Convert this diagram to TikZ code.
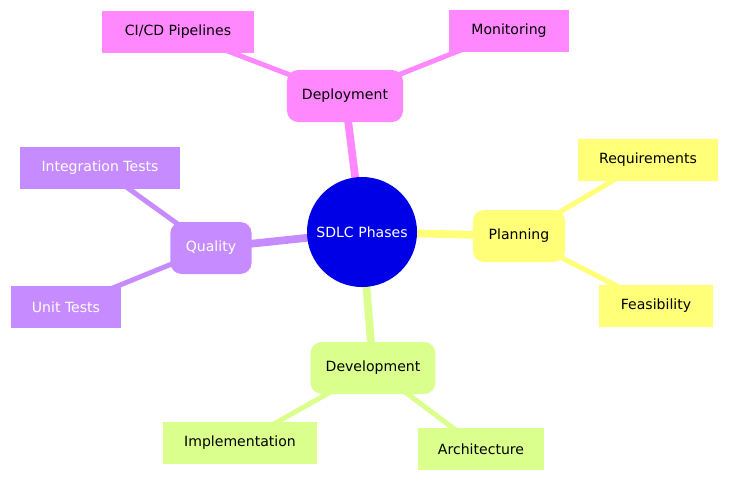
\documentclass[tikz,border=0pt]{standalone}
\usepackage{fontspec}
\setmainfont{DejaVu Sans}
\usetikzlibrary{backgrounds}
\definecolor{rootblue}{HTML}{0000E6}
\definecolor{planyel}{HTML}{FFFF78}
\definecolor{devgreen}{HTML}{DAFF8C}
\definecolor{qualpur}{HTML}{C68CFF}
\definecolor{deppink}{HTML}{FF88FF}
\tikzset{
  branch/.style={rounded corners=8pt, minimum height=1.3cm, fill=#1, font=\fontsize{10}{12}\selectfont},
  leaf/.style={minimum height=1.07cm, fill=#1, font=\fontsize{10}{12}\selectfont},
  thick edge/.style={line width=5.5pt, draw=#1},
  thin edge/.style={line width=3.5pt, draw=#1}
}
\begin{document}
\begin{tikzpicture}[x=0.025cm, y=-0.025cm]
			\useasboundingbox (0,0) rectangle (729,482);
			
			\node[circle, fill=rootblue, minimum size=2.75cm, text=white, font=\fontsize{10}{12}\selectfont] (root) at (362,232) {SDLC Phases};
			
			\node[branch=planyel, minimum width=2.3cm] (plan) at (519,236) {Planning};
			\node[leaf=planyel, minimum width=3.5cm] (req) at (648,160) {Requirements};
			\node[leaf=planyel, minimum width=2.83cm] (feas) at (656,306) {Feasibility};
			
			\node[branch=devgreen, minimum width=3.12cm] (dev) at (373,368) {Development};
			\node[leaf=devgreen, minimum width=3.85cm] (impl) at (240,443) {Implementation};
			\node[leaf=devgreen, minimum width=3.15cm] (arch) at (481,449) {Architecture};
			
			\node[branch=qualpur, minimum width=2.03cm, text=white] (qual) at (211,248) {Quality};
			\node[leaf=qualpur, minimum width=4cm, text=white] (integ) at (100,168) {Integration Tests};
			\node[leaf=qualpur, minimum width=2.75cm, text=white] (unit) at (66,307) {Unit Tests};
			
			\node[branch=deppink, minimum width=2.9cm] (depl) at (345,96) {Deployment};
			\node[leaf=deppink, minimum width=3.78cm] (cicd) at (178,32) {CI/CD Pipelines};
			\node[leaf=deppink, minimum width=2.98cm] (mon) at (509,31) {Monitoring};
			
			\begin{pgfonlayer}{background}
				\draw[thick edge=planyel] (root.center) -- (plan.center);
				\draw[thick edge=devgreen] (root.center) -- (dev.center);
				\draw[thick edge=qualpur] (root.center) -- (qual.center);
				\draw[thick edge=deppink] (root.center) -- (depl.center);
				\draw[thin edge=planyel] (plan.center) -- (req.center);
				\draw[thin edge=planyel] (plan.center) -- (feas.center);
				\draw[thin edge=devgreen] (dev.center) -- (impl.center);
				\draw[thin edge=devgreen] (dev.center) -- (arch.center);
				\draw[thin edge=qualpur] (qual.center) -- (integ.center);
				\draw[thin edge=qualpur] (qual.center) -- (unit.center);
				\draw[thin edge=deppink] (depl.center) -- (cicd.center);
				\draw[thin edge=deppink] (depl.center) -- (mon.center);
			\end{pgfonlayer}
		\end{tikzpicture}
\end{document}
